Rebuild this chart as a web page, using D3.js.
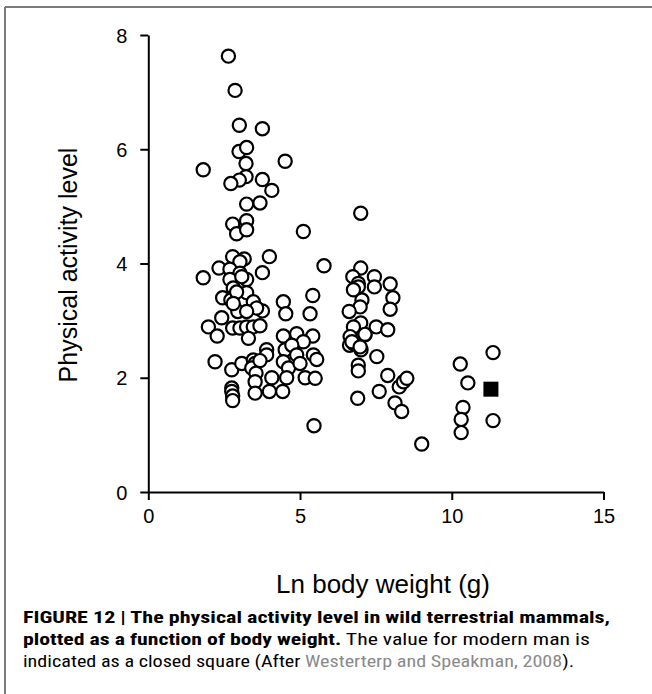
<!DOCTYPE html>
<html>
<head>
<meta charset="utf-8">
<script src="https://cdn.jsdelivr.net/npm/d3@7"></script>
<style>
  html, body { margin: 0; padding: 0; background: #fff; }
  svg { display: block; }
</style>
</head>
<body>
<svg id="chart" width="652" height="694"></svg>
<script>
// ---- data ----
const xTicks = [0, 5, 10, 15];
const yTicks = [0, 2, 4, 6, 8];

// Ln body weight (g) for each wild mammal
const lnWeight = [
  2.64, 2.86, 3.00, 3.76, 2.99, 3.24, 4.51, 1.81, 3.22, 3.22, 3.00, 2.72, 3.76, 4.07,
  3.24, 3.68, 2.78, 3.24, 2.91, 3.24, 5.11, 2.78, 3.16, 3.99, 3.02, 2.33, 5.79, 1.81,
  2.69, 3.02, 3.76, 3.24, 2.69, 3.08, 2.80, 3.24, 5.42, 4.45, 2.45, 2.72, 3.46, 2.95,
  3.76, 4.53, 5.33, 3.57, 3.24, 2.42, 1.98, 2.27, 2.78, 3.02, 3.24, 3.46, 3.68, 3.30,
  4.45, 4.89, 5.42, 5.11, 3.90,
  2.20, 2.75, 3.08, 3.46, 3.52, 3.41, 3.90, 3.68, 3.55, 3.52, 4.07, 3.52, 3.99, 4.43,
  2.75, 2.75, 2.78, 2.78, 4.51, 4.73, 4.45, 4.62, 4.89, 5.00, 5.44, 5.55, 5.17, 5.50,
  4.56, 5.46, 2.91, 2.80,
  6.63, 6.76, 6.89, 7.01, 7.14, 7.53, 6.92, 6.92, 6.90, 7.89, 7.61, 8.27, 8.41, 8.52,
  8.13, 8.35, 9.01,
  7.00, 7.00, 6.74, 7.45, 6.92, 6.92, 6.76, 7.45, 7.97, 8.06, 7.97, 7.04, 6.98, 6.62,
  7.00, 6.76, 7.51, 7.89, 7.14, 6.65, 6.71, 6.98,
  10.28, 10.53, 10.37, 10.31, 10.31, 11.36, 11.36
];
// Physical activity level for each wild mammal
const pal = [
  7.63, 7.03, 6.42, 6.36, 5.96, 6.03, 5.79, 5.64, 5.75, 5.52, 5.46, 5.40, 5.47, 5.28,
  5.04, 5.06, 4.69, 4.75, 4.52, 4.59, 4.56, 4.12, 4.08, 4.12, 4.03, 3.92, 3.96, 3.75,
  3.90, 3.83, 3.84, 3.72, 3.72, 3.77, 3.57, 3.49, 3.44, 3.33, 3.40, 3.36, 3.33, 3.16,
  3.17, 3.12, 3.12, 3.22, 3.16, 3.05, 2.89, 2.73, 2.87, 2.87, 2.89, 2.89, 2.91, 2.69,
  2.73, 2.77, 2.73, 2.63, 2.49,
  2.28, 2.14, 2.25, 2.31, 2.25, 2.17, 2.40, 2.30, 2.08, 1.93, 2.00, 1.73, 1.76, 1.76,
  1.82, 1.76, 1.68, 1.60, 2.49, 2.57, 2.28, 2.17, 2.40, 2.25, 2.40, 2.32, 2.00, 1.99,
  2.00, 1.16, 3.50, 3.30,
  2.57, 2.60, 2.66, 2.49, 2.75, 2.37, 2.22, 2.12, 1.64, 2.04, 1.76, 1.84, 1.93, 1.99,
  1.56, 1.41, 0.84,
  4.88, 3.92, 3.77, 3.77, 3.65, 3.59, 3.54, 3.59, 3.64, 3.40, 3.20, 3.36, 3.24, 3.16,
  2.96, 2.89, 2.89, 2.84, 2.76, 2.72, 2.63, 2.54,
  2.24, 1.91, 1.48, 1.27, 1.04, 2.44, 1.25
];
// Modern man (closed square)
const manLnWeight = [11.29];
const manPal = [1.80];

const xTitle = "Ln body weight (g)";
const yTitle = "Physical activity level";

// ---- drawing ----
const svg = d3.select("#chart");
const fontMain = "'Liberation Sans', Arial, Helvetica, sans-serif";

// outer frame (left and top rules)
svg.append("line").attr("x1", 5).attr("y1", 7).attr("x2", 652).attr("y2", 7)
  .attr("stroke", "#7a7a7a").attr("stroke-width", 2);
svg.append("line").attr("x1", 5).attr("y1", 7).attr("x2", 5).attr("y2", 694)
  .attr("stroke", "#7a7a7a").attr("stroke-width", 2);

const x = d3.scaleLinear().domain([0, 15]).range([148.3, 603.5]);
const y = d3.scaleLinear().domain([0, 8]).range([492, 35]);

const xAxis = d3.axisBottom(x).tickValues(xTicks).tickSize(8).tickSizeOuter(0).tickPadding(9);
const yAxis = d3.axisLeft(y).tickValues(yTicks).tickSize(8).tickSizeOuter(0).tickPadding(13);

const gx = svg.append("g").attr("transform", `translate(0,${y(0)})`).call(xAxis);
const gy = svg.append("g").attr("transform", `translate(${x(0)},0)`).call(yAxis);

[gx, gy].forEach(g => {
  g.select(".domain").attr("stroke", "#000").attr("stroke-width", 2);
  g.selectAll(".tick line").attr("stroke", "#000").attr("stroke-width", 2);
  g.selectAll(".tick text").attr("fill", "#000")
    .style("font-family", fontMain).style("font-size", "20px");
});
gy.selectAll(".tick text").attr("dy", "0.35em");

// axis titles
svg.append("text")
  .attr("x", 383).attr("y", 593)
  .attr("text-anchor", "middle")
  .style("font-family", fontMain).style("font-size", "26px")
  .text(xTitle);

svg.append("text")
  .attr("transform", "translate(77,265) rotate(-90)")
  .attr("text-anchor", "middle")
  .style("font-family", fontMain).style("font-size", "25px")
  .text(yTitle);

// points
const pts = lnWeight.map((v, i) => ({ x: v, y: pal[i] }));
svg.append("g").selectAll("circle")
  .data(pts).join("circle")
  .attr("cx", d => x(d.x)).attr("cy", d => y(d.y))
  .attr("r", 6.6)
  .attr("fill", "#fff").attr("stroke", "#000").attr("stroke-width", 2.2);

const man = manLnWeight.map((v, i) => ({ x: v, y: manPal[i] }));
const sq = 15;
svg.append("g").selectAll("rect")
  .data(man).join("rect")
  .attr("x", d => x(d.x) - sq / 2).attr("y", d => y(d.y) - sq / 2)
  .attr("width", sq).attr("height", sq).attr("fill", "#000");

// caption
const capFont = "'Liberation Sans Narrow', 'Roboto Condensed', 'Arial Narrow', 'Liberation Sans', sans-serif";
const cap = svg.append("g").style("font-family", capFont).style("font-size", "17px").attr("fill", "#000");

const l1 = cap.append("text").attr("x", 23).attr("y", 623)
  .attr("textLength", 587).attr("lengthAdjust", "spacingAndGlyphs");
l1.append("tspan").attr("font-weight", "bold").text("FIGURE 12 | The physical activity level in wild terrestrial mammals,");

const l2 = cap.append("text").attr("x", 23).attr("y", 645)
  .attr("textLength", 567).attr("lengthAdjust", "spacingAndGlyphs");
l2.append("tspan").attr("font-weight", "bold").text("plotted as a function of body weight.");
l2.append("tspan").text(" The value for modern man is");

const l3 = cap.append("text").attr("x", 23).attr("y", 667)
  .attr("textLength", 551).attr("lengthAdjust", "spacingAndGlyphs");
l3.append("tspan").text("indicated as a closed square (After ");
l3.append("tspan").attr("fill", "#8a8a8a").text("Westerterp and Speakman, 2008");
l3.append("tspan").text(").");
</script>
</body>
</html>
